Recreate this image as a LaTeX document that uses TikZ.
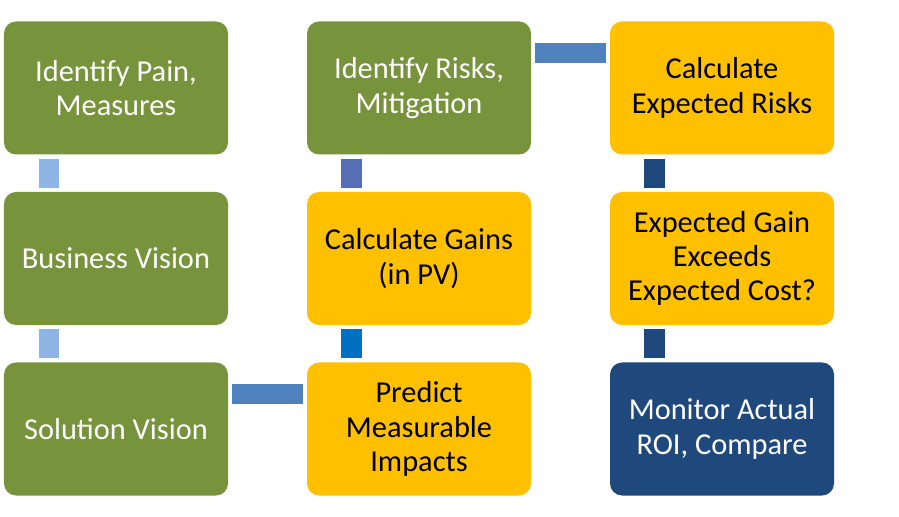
\documentclass[tikz,border=0pt]{standalone}
\usepackage{fontspec}
\usepackage{xcolor}
\setmainfont{Carlito}
\definecolor{VisionGreen}{RGB}{119,147,60}
\definecolor{GainAmber}{RGB}{255,192,0}
\definecolor{MonitorNavy}{RGB}{31,73,125}
\definecolor{LinkPale}{RGB}{141,180,226}
\definecolor{LinkSteel}{RGB}{79,129,189}
\definecolor{LinkIndigo}{RGB}{86,110,181}
\definecolor{LinkAzure}{RGB}{0,112,192}
\usetikzlibrary{positioning}

\begin{document}
\begin{tikzpicture}[x=1bp, y=-1bp, font=\fontsize{30.5}{34.5}\selectfont]
    \tikzset{
        stepblock/.style={rectangle, rounded corners=12bp, minimum width=224bp,
            minimum height=133bp, inner sep=0pt, align=center},
        visionblock/.style={stepblock, fill=VisionGreen, text=white},
        gainblock/.style={stepblock, fill=GainAmber, text=black},
        monitorblock/.style={stepblock, fill=MonitorNavy, text=white},
        vlink/.style={line width=20.5bp, shorten <=4bp, shorten >=4bp},
        hlink/.style={line width=20bp, shorten <=4bp, shorten >=4bp}
    }
    \useasboundingbox (0,0) rectangle (899,517);
    \node[visionblock] (pain) at (116,88) {Identify Pain,\\Measures};
    \node[visionblock] (bizvision) at (116,258.5) {Business Vision};
    \node[visionblock] (solvision) at (116,429) {Solution Vision};
    \node[visionblock] (risks) at (419,88) {Identify Risks,\\Mitigation};
    \node[gainblock] (gains) at (419,258.5) {Calculate Gains\\(in PV)};
    \node[gainblock] (impacts) at (419,429) {Predict\\Measurable\\Impacts};
    \node[gainblock] (exprisks) at (722,88) {Calculate\\Expected Risks};
    \node[gainblock] (exceeds) at (722,258.5) {Expected Gain\\Exceeds\\Expected Cost?};
    \node[monitorblock] (monitor) at (722,429) {Monitor Actual\\ROI, Compare};
    \draw[vlink, LinkPale] ([xshift=45bp]pain.south west) -- ([xshift=45bp]bizvision.north west);
    \draw[vlink, LinkPale] ([xshift=45bp]bizvision.south west) -- ([xshift=45bp]solvision.north west);
    \draw[hlink, LinkSteel] ([yshift=-32bp]solvision.north east) -- ([yshift=-32bp]impacts.north west);
    \draw[vlink, LinkAzure] ([xshift=44.5bp]impacts.north west) -- ([xshift=44.5bp]gains.south west);
    \draw[vlink, LinkIndigo] ([xshift=44.5bp]gains.north west) -- ([xshift=44.5bp]risks.south west);
    \draw[hlink, LinkSteel] ([yshift=-32bp]risks.north east) -- ([yshift=-32bp]exprisks.north west);
    \draw[vlink, MonitorNavy] ([xshift=44.5bp]exprisks.south west) -- ([xshift=44.5bp]exceeds.north west);
    \draw[vlink, MonitorNavy] ([xshift=44.5bp]exceeds.south west) -- ([xshift=44.5bp]monitor.north west);
\end{tikzpicture}
\end{document}
